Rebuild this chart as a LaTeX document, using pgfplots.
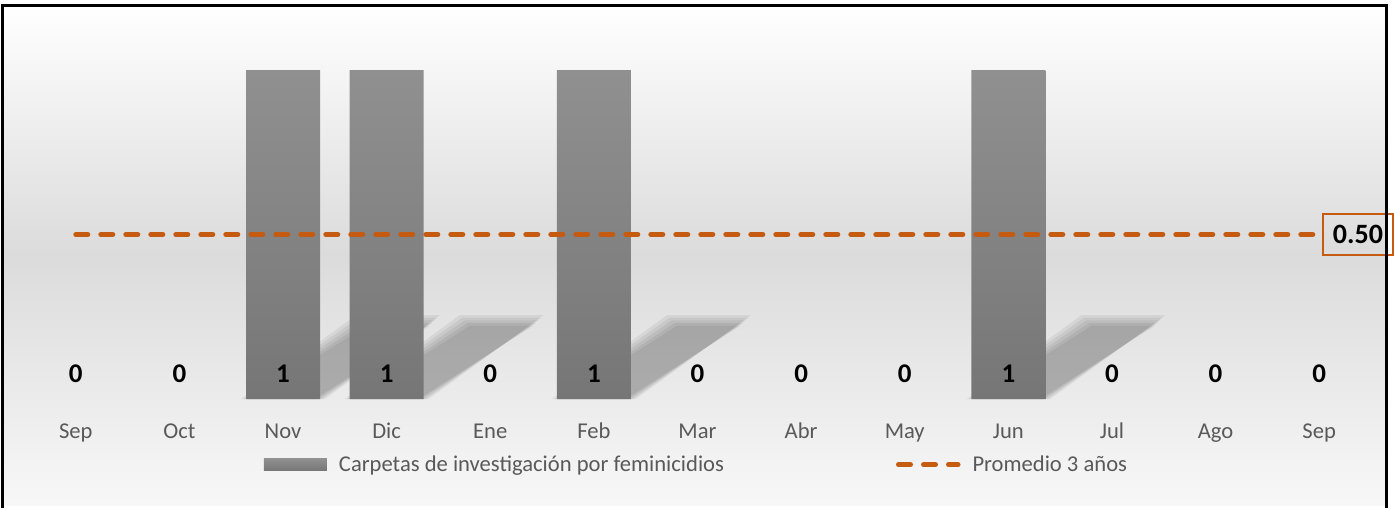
\documentclass[border=0pt]{standalone}
\usepackage{pgfplots}
\pgfplotsset{compat=1.18}
\usepackage{pgfplotstable}
\usepackage{fontspec}
\setmainfont{Carlito}
\definecolor{orng}{HTML}{C55A11}
\definecolor{txt}{HTML}{595959}
\definecolor{bartop}{HTML}{909090}
\definecolor{barbot}{HTML}{767676}
\pgfplotstableread{
x y
0 0
1 0
2 1
3 1
4 0
5 1
6 0
7 0
8 0
9 1
10 0
11 0
12 0
}\datatable
\newcommand\shlayer[3]{\fill[black,opacity=0.06] (axis cs:#1-0.34-#2,0) -- (axis cs:#1+0.34+#2,0) -- (axis cs:#1+1.45+#2,0.235+#3) -- (axis cs:#1+0.77-#2,0.235+#3) -- cycle;}
\begin{document}
\begin{tikzpicture}
\begin{scope}[x=0.5pt,y=-0.5pt]
\useasboundingbox (0,0) rectangle (1394,505);
\shade[top color=white, bottom color=white!97!black, middle color=white!86!black] (2,5) rectangle (1386,505);
\end{scope}
\begin{axis}[at={(12pt,-199.5pt)}, anchor=south west, scale only axis,
  width=673.5pt, height=164.5pt,
  xmin=-0.5, xmax=12.5, ymin=0, ymax=1,
  /pgf/number format/assume math mode=true,
  axis line style={draw=none}, ytick=\empty,
  xtick={0,...,12},
  xticklabels={Sep,Oct,Nov,Dic,Ene,Feb,Mar,Abr,May,Jun,Jul,Ago,Sep},
  major tick length=0pt,
  x tick label style={anchor=base, yshift=-19.5pt, font=\fontsize{11.3}{13}\selectfont, text=txt},
  clip=false,
  legend columns=2,
  legend style={at={(0.5,-0.2)}, anchor=center, draw=none, fill=none,
    font=\fontsize{11.3}{13}\selectfont, text=txt,
    /tikz/every odd column/.append style={column sep=4pt},
    /tikz/every even column/.append style={column sep=84pt}},
]
% soft bar shadows (decoration)
\pgfplotsinvokeforeach{2,3,5,9}{
  \shlayer{#1}{0.065}{0.02}
  \shlayer{#1}{0.04}{0.012}
  \shlayer{#1}{0.015}{0.004}
  \shlayer{#1}{-0.01}{-0.004}
  \shlayer{#1}{-0.035}{-0.012}
}
\addplot[ybar, bar width=37pt, draw=none, top color=bartop, bottom color=barbot,
  restrict y to domain=0.5:2,
  legend image code/.code={\shade[top color=bartop, bottom color=barbot] (0pt,-3pt) rectangle (31.5pt,3pt);}]
  table[x=x,y=y] {\datatable};
\addlegendentry{Carpetas de investigación por feminicidios}
\addplot[draw=none, forget plot, nodes near coords, point meta=\thisrow{y},
  nodes near coords style={anchor=base, yshift=8.5pt, text=black, font=\bfseries\fontsize{13.5}{15}\selectfont}]
  table[x=x, y expr=0] {\datatable};
\addplot[orng, line width=2.5pt, dash pattern=on 6pt off 6.5pt, line cap=round,
  legend image code/.code={\draw[orng, line width=2.5pt, dash pattern=on 6pt off 6.5pt, line cap=round] (1.25pt,0) -- (31pt,0);}]
  coordinates {(0,0.5) (12,0.5)}
  node[pos=1, anchor=west, xshift=1.5pt, draw=orng, solid, line width=0.8pt, inner xsep=5pt, minimum height=20.5pt, text=black, font=\bfseries\fontsize{14}{15}\selectfont] {0.50};
\addlegendentry{Promedio 3 años}
\end{axis}
\begin{scope}[x=0.5pt,y=-0.5pt]
\draw[line width=1.5pt] (2,508) -- (2,5) -- (1386,5) -- (1386,508);
\end{scope}
\end{tikzpicture}
\end{document}
